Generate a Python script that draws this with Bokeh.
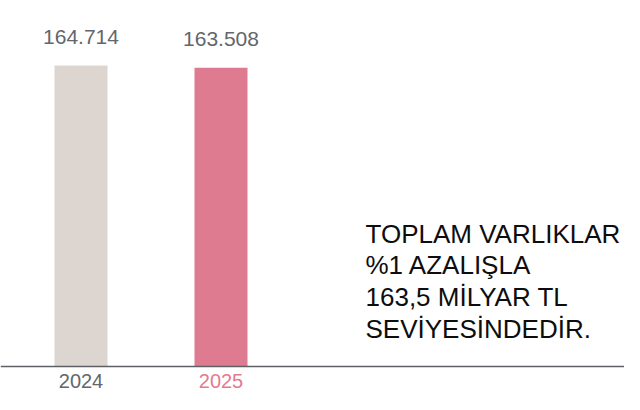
from bokeh.plotting import figure
from bokeh.models import ColumnDataSource, Range1d, Span
from bokeh.core.properties import value
from bokeh.embed import file_html
from bokeh.resources import INLINE

# ---- data ----
years = ["2024", "2025"]
totals = [164714, 163508]
value_labels = ["164.714", "163.508"]
bar_colors = ["#dcd5d0", "#df7b90"]
year_colors = ["#63666b", "#e6798f"]
statement = [
    "TOPLAM VARLIKLAR",
    "%1 AZALIŞLA",
    "163,5 MİLYAR TL",
    "SEVİYESİNDEDİR.",
]

# ---- layout (pixels) ----
W, H = 624, 394
bar_spacing_px = 140.0
first_bar_px = 80.5
bar_width_px = 53.0
base_px_from_top = 366.0
tallest_top_px = 65.0

vmax = max(totals)
px_per_val = (base_px_from_top - tallest_top_px) / vmax
y_top = tallest_top_px / px_per_val + vmax
y_bot = -(H - base_px_from_top) / px_per_val
x_start = -first_bar_px / bar_spacing_px
x_end = x_start + W / bar_spacing_px

xs = list(range(len(years)))

src = ColumnDataSource(dict(
    x=xs, top=totals, color=bar_colors, label=value_labels,
    year=years, ycolor=year_colors, zero=[0] * len(years),
))

p = figure(width=W, height=H, output_backend="svg", toolbar_location=None,
           x_range=Range1d(x_start, x_end), y_range=Range1d(y_bot, y_top),
           min_border=0, min_border_left=0, min_border_right=0,
           min_border_top=0, min_border_bottom=0)
p.axis.visible = False
p.grid.visible = False
p.outline_line_color = None
p.background_fill_color = "white"
p.border_fill_color = "white"

p.vbar(x="x", top="top", bottom=0, width=bar_width_px / bar_spacing_px,
       color="color", line_color=None, source=src)

p.add_layout(Span(location=0, dimension="width", line_color="#5d6065",
                  line_width=1.5))

# value labels above bars
p.text(x="x", y="top", text="label", source=src, y_offset=-29,
       text_align="center", text_baseline="alphabetic",
       text_font=value("Liberation Sans"), text_font_size="21px",
       text_color="#63666b")

# year labels below baseline
p.text(x="x", y="zero", text="year", source=src, y_offset=14.5,
       text_align="center", text_baseline="alphabetic",
       text_font=value("Liberation Sans"), text_font_size="20px",
       text_color="ycolor")

# statement block
line_gap = 31.7
first_line_above = 133.0
stmt_x = x_start + 365 / bar_spacing_px
stmt_src = ColumnDataSource(dict(
    x=[stmt_x] * len(statement), y=[0] * len(statement), text=statement,
    off=[-first_line_above + i * line_gap for i in range(len(statement))],
))
p.text(x="x", y="y", text="text", y_offset="off", source=stmt_src,
       text_align="left", text_baseline="alphabetic",
       text_font=value("Liberation Sans"), text_font_size="26px",
       text_color="#0d0d0d")

open("out.html", "w").write(file_html(p, INLINE))
